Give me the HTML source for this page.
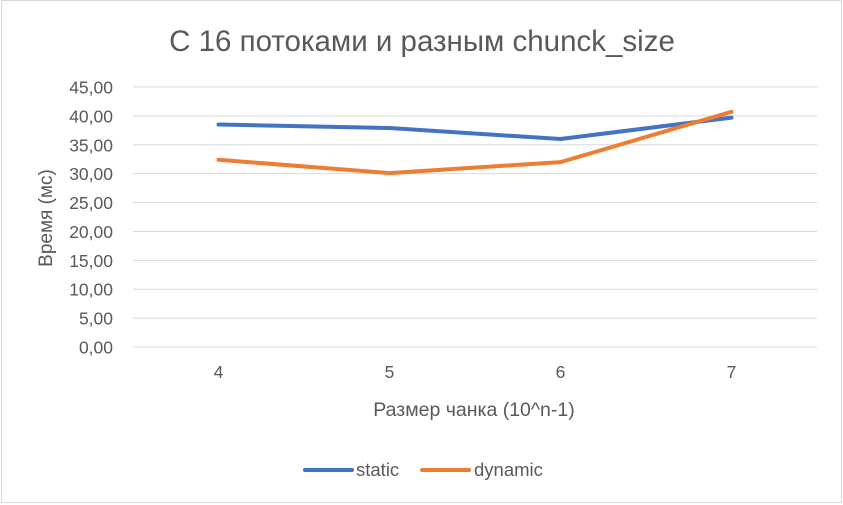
<!DOCTYPE html>
<html><head><meta charset="utf-8"><style>
body{margin:0;background:#fff;}
svg{display:block;font-family:"Liberation Sans",sans-serif;}
</style></head><body>
<svg id="c" width="843" height="505">
<rect x="1.5" y="0.5" width="840" height="502" fill="#fff" stroke="#d9d9d9"/>
<text x="422" y="51" text-anchor="middle" font-size="29.5" fill="#595959">С 16 потоками и разным chunck_size</text>
<text transform="translate(52,218) rotate(-90)" text-anchor="middle" font-size="19" fill="#595959">Время (мс)</text>
<text x="474" y="416" text-anchor="middle" font-size="19.5" fill="#595959">Размер чанка (10^n-1)</text>
<g id="grid"></g><g id="ylab"></g><g id="xlab"></g><g id="series"></g>
<line x1="305" y1="470" x2="352" y2="470" stroke="#4472c4" stroke-width="4" stroke-linecap="round"/>
<text x="356" y="476" font-size="18.5" fill="#595959">static</text>
<line x1="422" y1="470" x2="469" y2="470" stroke="#ed7d31" stroke-width="4" stroke-linecap="round"/>
<text x="474" y="476" font-size="18.5" fill="#595959">dynamic</text>
</svg>
<script>
const categories=["4","5","6","7"];
const staticVals=[38.5,37.9,36.0,39.7];
const dynamicVals=[32.4,30.1,32.0,40.7];
const yTicks=[0,5,10,15,20,25,30,35,40,45];
const NS="http://www.w3.org/2000/svg";
const x0=133,x1=817,yb=347,yt=87;
const y=v=>yb-(v/45)*(yb-yt);
const x=i=>x0+(i+0.5)*(x1-x0)/categories.length;
function mk(t,a,p){const e=document.createElementNS(NS,t);for(const k in a)e.setAttribute(k,a[k]);document.getElementById(p).appendChild(e);return e;}
yTicks.forEach(v=>{
 const l=mk('line',{x1:x0,x2:x1,y1:y(v),y2:y(v),stroke:'#d9d9d9','stroke-width':1},'grid');
 
 
 const t=mk('text',{x:113,y:y(v)+6.5,'text-anchor':'end','font-size':17.5,fill:'#595959'},'ylab');
 t.textContent=v.toFixed(2).replace('.',',');
 
 
});
categories.forEach((c,i)=>{
 const t=mk('text',{x:x(i),y:378,'text-anchor':'middle','font-size':17.5,fill:'#595959'},'xlab');
 t.textContent=c;
 
 
});
[[staticVals,'#4472c4','static-line'],[dynamicVals,'#ed7d31','dynamic-line']].forEach(([vals,col,n])=>{
 const p=mk('polyline',{points:vals.map((v,i)=>x(i)+','+y(v)).join(' '),fill:'none',stroke:col,'stroke-width':4,'stroke-linecap':'round','stroke-linejoin':'round'},'series');
 
 
});
</script>
</body></html>
